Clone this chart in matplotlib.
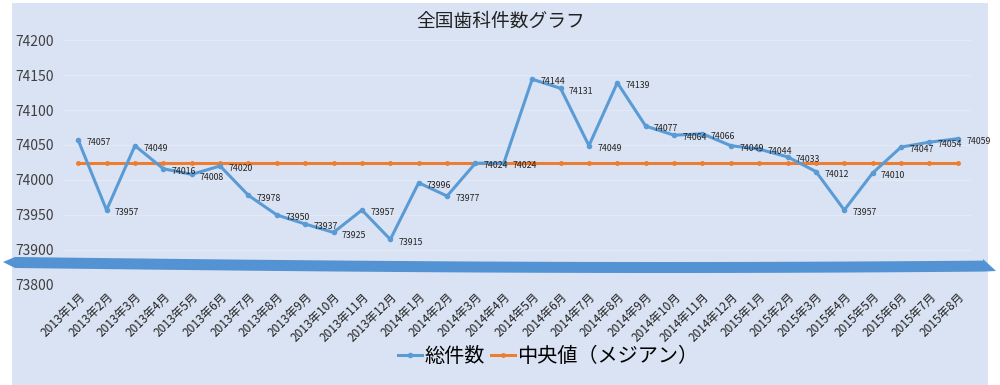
import numpy as np
import matplotlib.pyplot as plt
from matplotlib.patches import Rectangle, Polygon

plt.rcParams['font.family'] = ['Noto Sans CJK JP', 'DejaVu Sans']

months = ['2013年1月', '2013年2月', '2013年3月', '2013年4月', '2013年5月', '2013年6月',
          '2013年7月', '2013年8月', '2013年9月', '2013年10月', '2013年11月', '2013年12月',
          '2014年1月', '2014年2月', '2014年3月', '2014年4月', '2014年5月', '2014年6月',
          '2014年7月', '2014年8月', '2014年9月', '2014年10月', '2014年11月', '2014年12月',
          '2015年1月', '2015年2月', '2015年3月', '2015年4月', '2015年5月', '2015年6月',
          '2015年7月', '2015年8月']
total = [74057, 73957, 74049, 74016, 74008, 74020, 73978, 73950, 73937, 73925, 73957, 73915,
         73996, 73977, 74024, 74024, 74144, 74131, 74049, 74139, 74077, 74064, 74066, 74049,
         74044, 74033, 74012, 73957, 74010, 74047, 74054, 74059]
median = [74024] * len(months)
yticks = [73850, 73900, 73950, 74000, 74050, 74100, 74150, 74200]
ytick_labels = ['73800', '73900', '73950', '74000', '74050', '74100', '74150', '74200']

bg = '#dae3f3'
blue = '#5b9bd5'
orange = '#ed7d31'

fig = plt.figure(figsize=(10, 3.85), dpi=100)
fig.patch.set_facecolor('white')
W, H = 1000, 385
fig.patches.append(Rectangle((12 / W, 0), (988 - 12) / W, (385 - 3) / H,
                             transform=fig.transFigure, facecolor=bg, edgecolor='none', zorder=-1))

ax = fig.add_axes([0.064, 0.26, 0.908, 0.636])
ax.set_zorder(1)
ax.set_facecolor('none')
x = np.arange(len(months))
ax.plot(x, median, color=orange, lw=2.2, marker='o', ms=2.5, label='中央値（メジアン）', zorder=3)
ax.plot(x, total, color=blue, lw=2.2, marker='o', ms=3, label='総件数', zorder=4)
for xi, v in zip(x, total):
    ax.annotate(str(v), (xi, v), xytext=(6, -2), textcoords='offset points',
                fontsize=6.3, va='center', ha='left', color='#222222', zorder=5)

ax.set_xlim(-0.5, len(months) - 0.5)
ax.set_ylim(73850, 74200)
ax.set_yticks(yticks)
ax.set_yticklabels(ytick_labels, fontsize=10, color='#404040')
ax.set_xticks(x)
ax.set_xticklabels(months, rotation=45, ha='right', rotation_mode='anchor', fontsize=8.5, color='#222222')
ax.tick_params(length=0, axis='both')
ax.tick_params(axis='y', pad=7)
ax.tick_params(axis='x', pad=4)
ax.grid(axis='y', color='#e3e9f5', lw=0.8)
ax.set_axisbelow(True)
for s in ax.spines.values():
    s.set_visible(False)

fig.text(0.501, 0.945, '全国歯科件数グラフ', ha='center', va='center', fontsize=13.5, color='#222222')

h, l = ax.get_legend_handles_labels()
fig.legend(h[::-1], l[::-1], loc='center', bbox_to_anchor=(0.548, 0.075), ncol=2, frameon=False,
           fontsize=14.5, handlelength=1.2, handletextpad=0.1, columnspacing=0.3)

# wavy break band
xs = np.linspace(15, 983, 60)
top = 257 + 5 * np.sin(np.pi * (xs - 15) / 1300)
bot = top + 11
pts = [(3, 262)] + list(zip(xs, top)) + [(983, 259), (996, 271)] + list(zip(xs[::-1], bot[::-1])) + [(15, 268)]
pts = [(px / W, 1 - py / H) for px, py in pts]
fig.patches.append(Polygon(pts, closed=True, transform=fig.transFigure,
                           facecolor='#5393d3', edgecolor='none', zorder=10))

fig.savefig('out.png', dpi=100, facecolor=fig.get_facecolor())
